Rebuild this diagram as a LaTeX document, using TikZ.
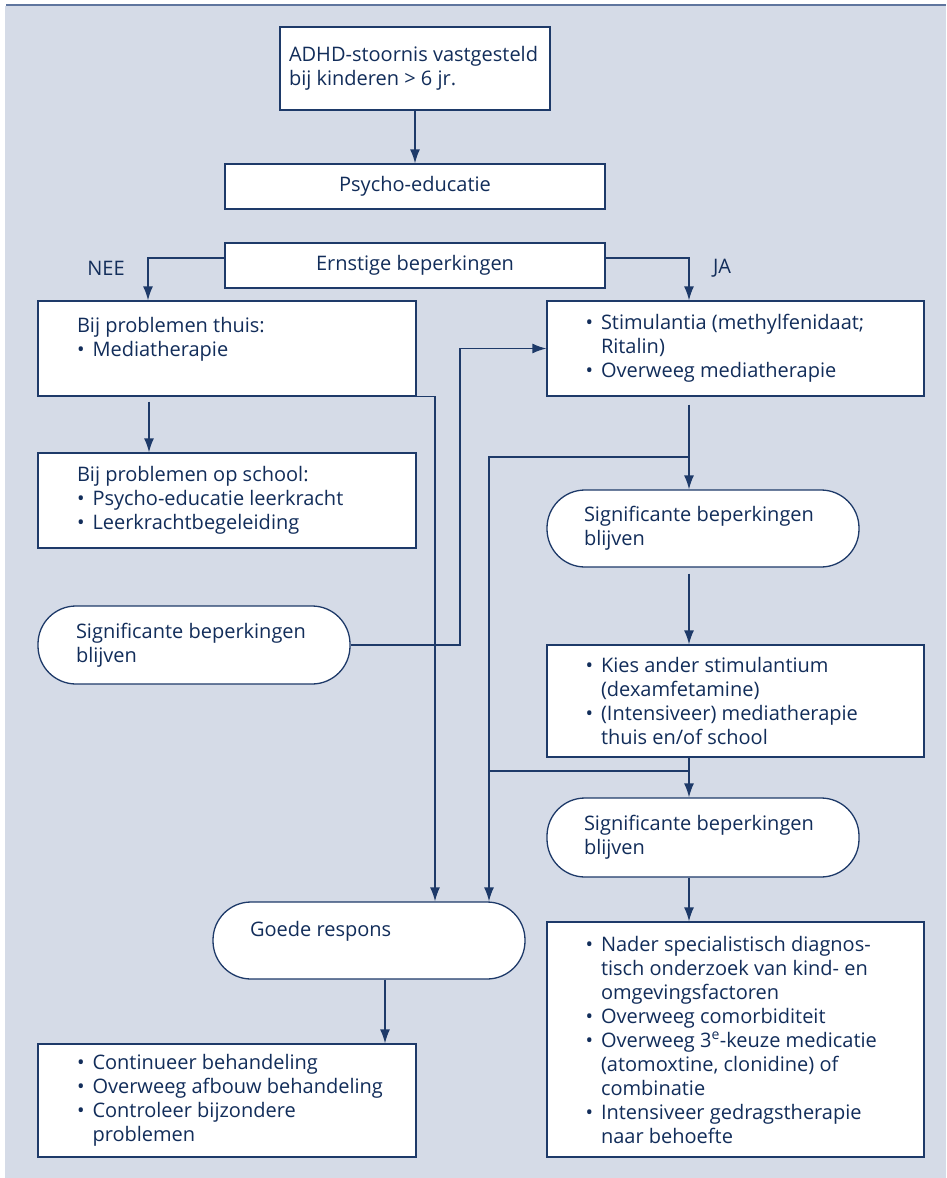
\documentclass[tikz,border=0pt]{standalone}
\usepackage{fontspec}
\setmainfont{Open Sans}
\usetikzlibrary{arrows.meta}
\definecolor{bgc}{RGB}{213,219,231}
\definecolor{topc}{RGB}{95,117,158}
\definecolor{navy}{RGB}{18,45,90}
\definecolor{linec}{RGB}{30,58,105}
\newcommand\bul{\makebox[15.5pt][l]{\textbullet}}
\newcommand\ind{\hspace*{15.5pt}}
\newcommand\tb[3]{\hspace*{#1pt}\parbox{\dimexpr#2pt-#1pt\relax}{\raggedright #3}}
\begin{document}
\begin{tikzpicture}[x=1pt,y=-1pt,
  box/.style={draw=linec, fill=white, line width=1.3pt, inner sep=0pt, text=navy,
              font=\fontsize{20}{24}\selectfont},
  cbox/.style={box, align=center},
  rbox/.style={box, rounded corners=38pt},
  conn/.style={draw=linec, line width=1.4pt},
  arr/.style={conn, -{Latex[length=14pt,width=10pt]}},
  lbl/.style={text=navy, inner sep=0pt, font=\fontsize{20}{24}\selectfont}
]
\useasboundingbox (0,0) rectangle (946,1178);
\fill[white] (0,0) rectangle (946,1178);
\fill[bgc] (5,6) rectangle (946,1178);
\draw[topc, line width=2.2pt] (6,5) -- (946,5);

% nodes
\node[box, minimum width=270pt, minimum height=83pt] (adhd) at (415,68.5)
  {\tb{9}{270}{ADHD-stoornis vastgesteld\\bij kinderen > 6 jr.}};
\node[cbox, minimum width=380pt, minimum height=45pt] (psy) at (415,186.5) {Psycho-educatie};
\node[cbox, minimum width=380pt, minimum height=45pt] (ern) at (415,265.5) {Ernstige beperkingen};
\node[lbl] (nee) at (106,268) {NEE};
\node[lbl] (ja) at (722,268) {JA};

\node[box, minimum width=378pt, minimum height=95pt] (thuis) at (227,348.5)
  {\tb{39}{378}{Bij problemen thuis:\\\bul Mediatherapie\\\mbox{}}};
\node[box, minimum width=378pt, minimum height=95pt] (school) at (227,500.5)
  {\tb{39}{378}{Bij problemen op school:\\\bul Psycho-educatie leerkracht\\\bul Leerkrachtbegeleiding}};
\node[rbox, minimum width=312pt, minimum height=78pt] (ellL) at (194,645)
  {\tb{38}{312}{Significante beperkingen\\blijven}};

\node[box, minimum width=377pt, minimum height=95pt] (stim) at (735.5,348.5)
  {\tb{38.5}{377}{\bul Stimulantia (methylfenidaat;\\\ind Ritalin)\\\bul Overweeg mediatherapie}};
\node[rbox, minimum width=312pt, minimum height=77pt] (ell1) at (703,528.5)
  {\tb{37}{312}{Significante beperkingen\\blijven}};
\node[box, minimum width=377pt, minimum height=112pt] (kies) at (735.5,701)
  {\tb{38.5}{377}{\bul Kies ander stimulantium\\\ind (dexamfetamine)\\\bul (Intensiveer) mediatherapie\\\ind thuis en/of school}};
\node[rbox, minimum width=312pt, minimum height=79pt] (ell2) at (703,837.5)
  {\tb{37}{312}{Significante beperkingen\\blijven}};
\node[box, minimum width=377pt, minimum height=235pt] (nader) at (735.5,1039.5)
  {\tb{38.5}{377}{\bul Nader specialistisch diagnos-\\\ind tisch onderzoek van kind- en\\\ind omgevingsfactoren\\\bul Overweeg comorbiditeit\\\bul Overweeg 3\textsuperscript{e}-keuze medicatie\\\ind (atomoxtine, clonidine) of\\\ind combinatie\\\bul Intensiveer gedragstherapie\\\ind naar behoefte}};

\node[rbox, minimum width=312pt, minimum height=77pt] (goede) at (369,940.5)
  {\tb{37}{312}{Goede respons\\\mbox{}}};
\node[box, minimum width=378pt, minimum height=113pt] (cont) at (227,1100.5)
  {\tb{39}{378}{\bul Continueer behandeling\\\bul Overweeg afbouw behandeling\\\bul Controleer bijzondere\\\ind problemen}};

\coordinate (j1) at (460,500);
\coordinate (b1) at (689,457);
\coordinate (b1w) at (489,457);
\coordinate (b2) at (689,771);

% connectors
\draw[arr] (adhd) -- (psy);
\draw[arr] ([yshift=7.5pt]ern.west) -| ([xshift=-79pt]thuis.north);
\draw[arr] ([yshift=7.5pt]ern.east) -| ([xshift=-46.5pt]stim.north);
\draw[arr] ([xshift=-78pt,yshift=-5pt]thuis.south) -- ([xshift=-78pt]school.north);
\draw[arr] (thuis.south east) -| ([xshift=66pt]goede.north);
\draw[arr] (ellL.east) -| (j1) |- (stim.west);
\draw[arr] ([xshift=-46.5pt,yshift=-8pt]stim.south) -- ([xshift=-14pt]ell1.north);
\draw[arr] (b1) -| ([xshift=120pt]goede.north);
\draw[arr] ([xshift=-14pt,yshift=-6pt]ell1.south) -- ([xshift=-46.5pt]kies.north);
\draw[arr] ([xshift=-46.5pt]kies.south) -- ([xshift=-14pt]ell2.north);
\draw[conn] (b2) -- (b2 -| b1w);
\draw[arr] ([xshift=-14pt]ell2.south) -- ([xshift=-46.5pt]nader.north);
\draw[arr] ([xshift=16pt]goede.south) -- ([xshift=158pt]cont.north);
\end{tikzpicture}
\end{document}
